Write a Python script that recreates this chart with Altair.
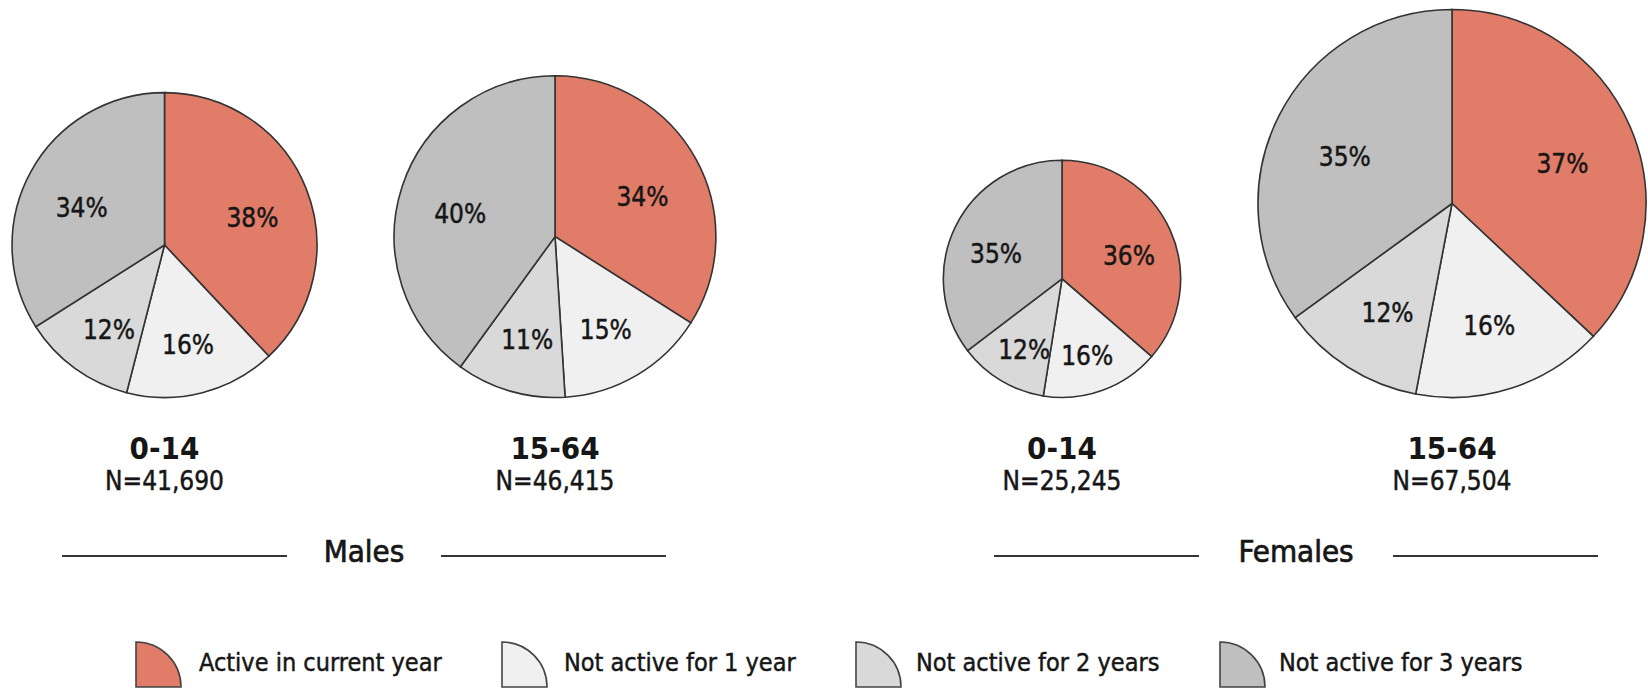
import math
import altair as alt
import pandas as pd

# ---------------- data ----------------
pie_ids = ["m014", "m1564", "f014", "f1564"]
pie_groups = ["Males", "Males", "Females", "Females"]
pie_ages = ["0-14", "15-64", "0-14", "15-64"]
pie_n = [41690, 46415, 25245, 67504]

categories = [
    "Active in current year",
    "Not active for 1 year",
    "Not active for 2 years",
    "Not active for 3 years",
]
share_m014 = [38, 16, 12, 34]
share_m1564 = [34, 15, 11, 40]
share_f014 = [36, 16, 12, 35]
share_f1564 = [37, 16, 12, 35]
shares = [share_m014, share_m1564, share_f014, share_f1564]

group_names = ["Males", "Females"]

# ---------------- style / layout ----------------
colors = ["#E07C68", "#F0F0F0", "#D9D9D9", "#BFBFBF"]
FONT = "DejaVu Sans Condensed, DejaVu Sans, sans-serif"
TXT = "#161616"
STROKE = "#333333"
TXT_STROKE = 0.45  # slight emboldening of regular text

W, H = 1648, 694
pie_cx = [164.5, 555, 1062, 1452]
PIE_BOTTOM = 397.5
R_MAX = 194
N_MAX = max(pie_n)
LABEL_FRAC = 0.62  # label distance as fraction of the radius
LABEL_DY = 9

AGE_Y = 450
N_Y = 482

group_cx = [364, 1296]
group_gap = [77, 97]
GROUP_HALF = 302
GROUP_Y = 556

legend_sym_x = [136, 502, 856, 1220]
legend_txt_x = [199, 564, 916, 1279]
LEGEND_BASE_Y = 687
LEGEND_R = 45
LEGEND_TXT_Y = 663

color_scale = alt.Scale(domain=categories, range=colors)
radius_scale = alt.Scale(type="sqrt", zero=True, domain=[0, N_MAX], range=[0, R_MAX])

rows = []
for pid, grp, age, n, sh in zip(pie_ids, pie_groups, pie_ages, pie_n, shares):
    for k, (cat, v) in enumerate(zip(categories, sh)):
        rows.append(dict(pie=pid, group=grp, age=age, N=n, category=cat,
                         share=v, ord=k, label=f"{v}%"))
slices = pd.DataFrame(rows)

pies_meta = pd.DataFrame(dict(pie=pie_ids, group=pie_groups, age=pie_ages, N=pie_n))
pies_meta["nlabel"] = ["N=" + format(n, ",") for n in pie_n]

layers = []
for i, pid in enumerate(pie_ids):
    r = R_MAX * math.sqrt(pie_n[i] / N_MAX)
    cx = pie_cx[i]
    cy = PIE_BOTTOM - r
    base = alt.Chart(slices).transform_filter(alt.datum.pie == pid)
    arc = base.mark_arc(stroke=STROKE, strokeWidth=1.6).encode(
        x=alt.value(cx), y=alt.value(cy),
        theta=alt.Theta("share:Q", stack="normalize"),
        radius=alt.Radius("N:Q", scale=radius_scale),
        order=alt.Order("ord:Q"),
        color=alt.Color("category:N", scale=color_scale, legend=None),
    )
    txt = base.transform_calculate(
        lab_n=f"datum.N * {LABEL_FRAC ** 2}"
    ).mark_text(font=FONT, fontSize=26, color=TXT, stroke=TXT, strokeWidth=TXT_STROKE,
                align="center", baseline="middle", dy=LABEL_DY).encode(
        x=alt.value(cx), y=alt.value(cy),
        theta=alt.Theta("share:Q", stack="normalize"),
        radius=alt.Radius("lab_n:Q", scale=radius_scale),
        order=alt.Order("ord:Q"),
        detail="category:N",
        text="label:N",
    )
    meta = alt.Chart(pies_meta).transform_filter(alt.datum.pie == pid)
    age_t = meta.mark_text(font=FONT, fontSize=31, fontWeight="bold", color=TXT,
                           align="center", baseline="middle").encode(
        x=alt.value(cx), y=alt.value(AGE_Y), text="age:N")
    n_t = meta.mark_text(font=FONT, fontSize=26, color=TXT, stroke=TXT,
                         strokeWidth=TXT_STROKE, align="center", baseline="middle").encode(
        x=alt.value(cx), y=alt.value(N_Y), text="nlabel:N")
    layers += [arc, txt, age_t, n_t]

groups_df = pd.DataFrame(dict(group=group_names))
for j, g in enumerate(group_names):
    gc = alt.Chart(groups_df).transform_filter(alt.datum.group == g)
    cx = group_cx[j]
    layers.append(gc.mark_text(font=FONT, fontSize=31, color=TXT, stroke=TXT,
                               strokeWidth=0.7, align="center",
                               baseline="middle").encode(
        x=alt.value(cx), y=alt.value(GROUP_Y - 3), text="group:N"))
    layers.append(gc.mark_rule(color="#333333", strokeWidth=2).encode(
        x=alt.value(cx - GROUP_HALF), x2=alt.value(cx - group_gap[j]), y=alt.value(GROUP_Y)))
    layers.append(gc.mark_rule(color="#333333", strokeWidth=2).encode(
        x=alt.value(cx + group_gap[j]), x2=alt.value(cx + GROUP_HALF), y=alt.value(GROUP_Y)))

legend_df = pd.DataFrame(dict(category=categories))
for k, cat in enumerate(categories):
    lc = alt.Chart(legend_df).transform_filter(alt.datum.category == cat)
    layers.append(lc.mark_arc(theta=0, theta2=math.pi / 2, radius=LEGEND_R,
                              stroke="#444444", strokeWidth=1.6).encode(
        x=alt.value(legend_sym_x[k]), y=alt.value(LEGEND_BASE_Y),
        color=alt.Color("category:N", scale=color_scale, legend=None)))
    layers.append(lc.mark_text(font=FONT, fontSize=25, color=TXT, stroke=TXT,
                               strokeWidth=TXT_STROKE, align="left",
                               baseline="middle").encode(
        x=alt.value(legend_txt_x[k]), y=alt.value(LEGEND_TXT_Y), text="category:N"))

chart = alt.layer(*layers).properties(
    width=W, height=H, padding=0, autosize=alt.AutoSizeParams(type="none"),
    background="white",
).configure_view(stroke=None)

chart.save("out.html", embed_options={"renderer": "svg", "actions": False})
